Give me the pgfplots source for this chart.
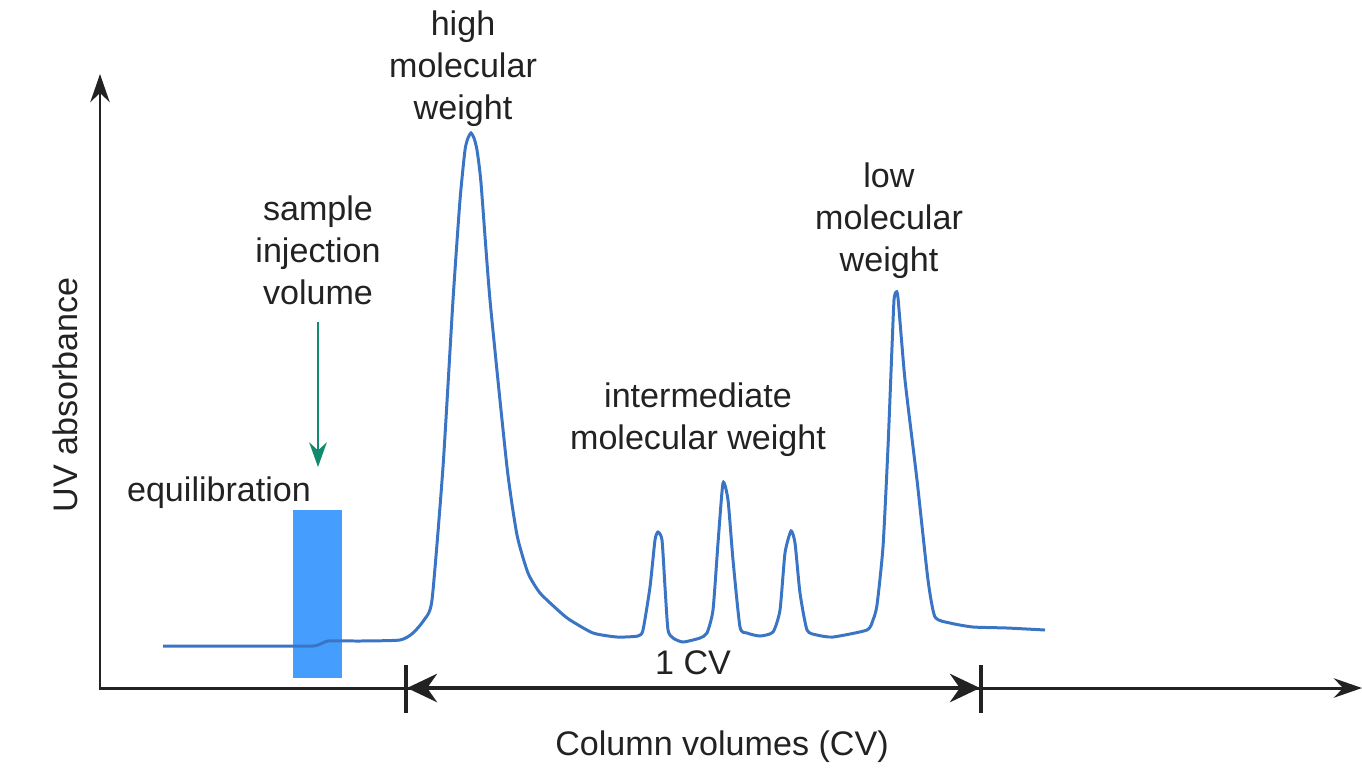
\documentclass[border=0pt]{standalone}
\usepackage{pgfplots}
\pgfplotsset{compat=1.18}
\usepackage{fontspec}
\setmainfont{Liberation Sans}
\usetikzlibrary{arrows.meta}
\definecolor{trace}{HTML}{3A74C4}
\definecolor{inject}{HTML}{459EFE}
\definecolor{teal}{HTML}{128A6E}
\definecolor{ink}{HTML}{222222}

% chromatogram trace in pixel units (y downwards)
\pgfplotstableread{
x y
163 646
200 646
250 646
313 646
328 641
360 641
400 640
413 633
424 620
432 600
443 467
453 300
460 200
465 150
468 138
471 133
474 138
477 150
481 183
490 300
507 467
517 535
528 573
540 593
560 612
570 620
593 633
617 637
638 636
643 630
650 587
655 540
658 532
662 540
665 587
668 630
673 638
683 642
700 638
707 633
713 610
718 543
723 483
728 500
733 560
740 627
747 633
760 636
773 632
780 610
785 553
791 531
795 543
800 593
807 630
817 635
833 637
867 630
873 620
877 605
883 547
888 447
892 347
894 300
896 292
898 298
905 380
917 480
928 580
935 617
950 623
973 627
1007 628
1045 630
}\trace

\begin{document}
\begin{tikzpicture}
\begin{axis}[
    scale only axis,
    width  = 136.2mm,
    height = 77.3mm,
    xmin = 0, xmax = 1362,
    ymin = 0, ymax = 773,
    y dir = reverse,
    hide axis,
    clip = false,
    font = \fontsize{9.7}{11.9}\selectfont,
]
    % sample injection band
    \fill[inject] (axis cs:293,510) rectangle (axis cs:342,678);

    \addplot[trace, line width=0.85pt, smooth, tension=0.35] table {\trace};

    % axes
    \draw[ink, line width=0.85pt, -{Stealth[length=8pt,width=5.5pt]}]
        (axis cs:100,688) -- (axis cs:100,74);
    \draw[ink, line width=0.85pt, -{Stealth[length=8pt,width=5.5pt]}]
        (axis cs:99,688) -- (axis cs:1362,688);

    % 1 CV span
    \draw[ink, line width=1.4pt] (axis cs:406,665) -- (axis cs:406,713);
    \draw[ink, line width=1.4pt] (axis cs:981,665) -- (axis cs:981,713);
    \draw[ink, line width=1.4pt, {Stealth[length=8.5pt,width=8pt]}-{Stealth[length=8.5pt,width=8pt]}]
        (axis cs:407,688) -- (axis cs:980,688);
    \node[ink] at (axis cs:693,663) {1 CV};

    % injection arrow
    \draw[teal, line width=0.85pt, -{Stealth[length=7pt,width=5pt]}]
        (axis cs:318,322) -- (axis cs:318,467);

    % labels
    \node[ink, align=center] at (axis cs:463,69) {high\\molecular\\weight};
    \node[ink, align=center] at (axis cs:318,250) {sample\\injection\\volume};
    \node[ink] at (axis cs:219,493) {equilibration};
    \node[ink, align=center] at (axis cs:698,420) {intermediate\\molecular weight};
    \node[ink, align=center] at (axis cs:889,221) {low\\molecular\\weight};
    \node[ink, rotate=90] at (axis cs:65,395) {UV absorbance};
    \node[ink] at (axis cs:722,747) {Column volumes (CV)};
\end{axis}
\pgfresetboundingbox
\useasboundingbox (current axis.south west) rectangle (current axis.north east);
\end{tikzpicture}
\end{document}
